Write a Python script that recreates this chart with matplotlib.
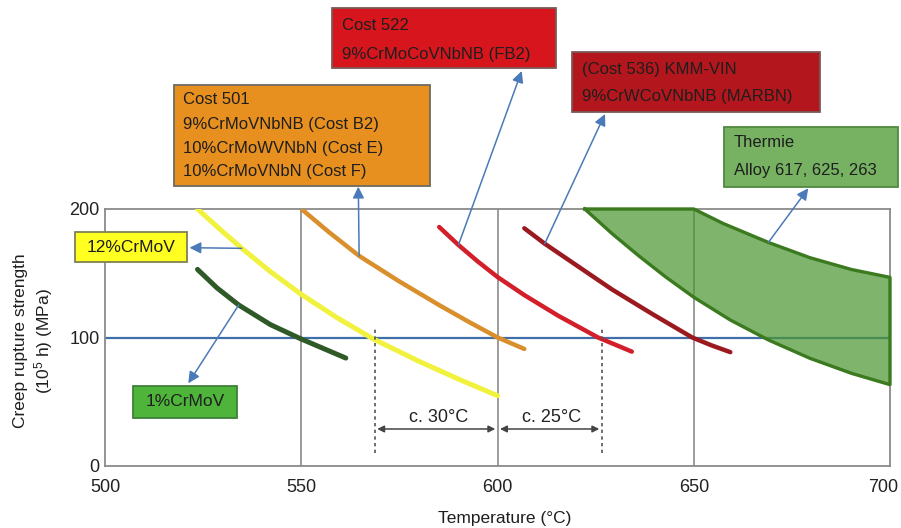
import matplotlib
matplotlib.use("Agg")
import matplotlib.pyplot as plt
from matplotlib.patches import Rectangle

plt.rcParams['font.family'] = ['Liberation Sans', 'DejaVu Sans']
plt.rcParams['mathtext.fontset'] = 'custom'
plt.rcParams['mathtext.rm'] = 'Liberation Sans'
plt.rcParams['mathtext.it'] = 'Liberation Sans:italic'

# ---------------- data ----------------
x_ticks = [500, 550, 600, 650, 700]
y_ticks = [0, 100, 200]

crmov1_T = [523.5, 528.5, 534.0, 542.1, 549.8, 561.3]
crmov1_S = [153.0, 138.5, 125.3, 110.0, 99.0, 84.0]

crmov12_T = [523.5, 529.9, 534.8, 542.1, 549.8, 558.7, 568.1, 580.0, 590.2, 600.0]
crmov12_S = [200.0, 182.4, 169.4, 151.2, 133.9, 116.1, 99.2, 81.4, 67.4, 54.7]

cost501_T = [550.3, 557.0, 564.7, 574.9, 585.1, 592.8, 600.0, 606.8]
cost501_S = [199.2, 182.0, 163.5, 143.7, 125.2, 111.9, 100.0, 91.1]

cost522_T = [585.1, 590.0, 595.0, 600.0, 606.8, 615.4, 625.6, 634.2]
cost522_S = [186.0, 172.0, 159.0, 147.0, 133.0, 117.0, 100.0, 89.0]

cost536_T = [606.8, 612.0, 619.7, 629.1, 639.3, 649.6, 654.5, 659.3]
cost536_S = [185.0, 173.0, 157.0, 137.5, 118.5, 100.0, 93.9, 88.6]

thermie_upper_T = [622.2, 650.0, 657.5, 669.0, 679.6, 690.2, 700.0]
thermie_upper_S = [200.0, 200.0, 188.7, 174.0, 162.1, 152.9, 146.8]
thermie_lower_T = [622.2, 629.1, 635.9, 642.7, 650.0, 659.3, 669.0, 679.6, 690.2, 700.0]
thermie_lower_S = [200.0, 181.0, 163.7, 147.4, 131.3, 113.6, 98.1, 83.8, 72.1, 63.3]

target_strength = 100
gap_T = [568.7, 600.0, 626.5]
gap_labels = ["c. 30°C", "c. 25°C"]

# ---------------- figure ----------------
W, H = 901, 528
fig = plt.figure(figsize=(W / 100, H / 100), dpi=100)
ax = fig.add_axes([105.3 / W, 1 - 466 / H, (890 - 105.3) / W, (466 - 209) / H])
ax.set_xlim(500, 700)
ax.set_ylim(0, 200)
ax.set_xticks(x_ticks)
ax.set_xticklabels([])
ax.set_yticks(y_ticks)
ax.tick_params(length=0, labelsize=13, colors='#222222')
ax.tick_params(axis='y', pad=4)
for s in ax.spines.values():
    s.set_color('#8a8a8a')
    s.set_linewidth(1.3)

# x tick labels (last one nudged inward like the reference)
for t in x_ticks:
    dx = -7 if t == x_ticks[-1] else 0
    ax.annotate(str(t), xy=(t, 0), xycoords=('data', 'axes fraction'),
                xytext=(dx, -21), textcoords='offset pixels', ha='center',
                va='center', fontsize=13, color='#222222', annotation_clip=False)

for t in x_ticks[1:-1]:
    ax.axvline(t, color='#8a8a8a', lw=1.2, zorder=1)
ax.axhline(target_strength, color='#3f6fa8', lw=1.6, zorder=2)

# Thermie band
poly_T = thermie_upper_T + thermie_lower_T[::-1]
poly_S = thermie_upper_S + thermie_lower_S[::-1]
ax.fill(poly_T, poly_S, facecolor='#4c9833', alpha=0.72, edgecolor='none', zorder=3)
ax.plot(poly_T, poly_S, color='#3b7a1e', lw=2.4, zorder=4, clip_on=False,
        solid_joinstyle='round')

style = dict(zorder=5, solid_capstyle='round', solid_joinstyle='round')
ax.plot(crmov12_T, crmov12_S, color='#f1f23e', lw=3.6, **style)
ax.plot(crmov1_T, crmov1_S, color='#2f5a28', lw=3.6, **style)
ax.plot(cost501_T, cost501_S, color='#d98f2c', lw=3.2, **style)
ax.plot(cost522_T, cost522_S, color='#d21f2a', lw=3.2, **style)
ax.plot(cost536_T, cost536_S, color='#9a1a20', lw=3.2, **style)

# dashed markers and temperature-gap arrows
for t in (gap_T[0], gap_T[2]):
    ax.plot([t, t], [10, 107], color='#555555', lw=1.2, ls=(0, (2, 2)), zorder=6)
for i in range(2):
    ax.annotate("", xy=(gap_T[i + 1] - 0.6, 28.8), xytext=(gap_T[i] + 0.6, 28.8),
                arrowprops=dict(arrowstyle='<|-|>', color='#444444', lw=1.1,
                                mutation_scale=10, shrinkA=0, shrinkB=0), zorder=6)
    ax.text((gap_T[i] + gap_T[i + 1]) / 2 + 0.5, 38, gap_labels[i], ha='center',
            va='center', fontsize=13, color='#222222')

# ---------------- boxes ----------------
def box(x0, y0, x1, y1, fc, ec):
    fig.add_artist(Rectangle((x0 / W, 1 - y1 / H), (x1 - x0) / W, (y1 - y0) / H,
                             transform=fig.transFigure, facecolor=fc, edgecolor=ec,
                             lw=1.3, zorder=2))

def ftext(x, y, s, ha='left', size=12, **kw):
    fig.text(x / W, 1 - y / H, s, ha=ha, va='center', fontsize=size,
             color='#1e1e1e', zorder=3, **kw)

box(75, 231.7, 187.3, 261.7, '#ffff21', '#7f7f55')
ftext(131, 247, "12%CrMoV", ha='center', size=12.5)

box(133.3, 385.7, 237.3, 417.7, '#4fb43a', '#3f7f3a')
ftext(185, 401.5, "1%CrMoV", ha='center', size=12.5)

box(174, 85, 430, 186, '#e8901f', '#6f6a60')
for yy, s in zip([100, 124, 148, 172],
                 ["Cost 501", "9%CrMoVNbNB (Cost B2)", "10%CrMoWVNbN (Cost E)",
                  "10%CrMoVNbN (Cost F)"]):
    ftext(183, yy, s)

box(332.3, 8.3, 555.7, 68.3, '#d6161c', '#7a5a5a')
ftext(341.5, 25, "Cost 522")
ftext(341.5, 55, "9%CrMoCoVNbNB (FB2)")

box(571.7, 52.3, 820, 111.7, '#b3161c', '#7a5a5a')
ftext(581.5, 69.5, "(Cost 536) KMM-VIN")
ftext(581.5, 96.7, "9%CrWCoVNbNB (MARBN)")

box(724.3, 127.3, 898.3, 186.7, '#77b263', '#4f8a3f')
ftext(734, 142.7, "Thermie")
ftext(734, 171, "Alloy 617, 625, 263")

# ---------------- leader arrows ----------------
leaders = [
    ((534.8, 169.4), (189.5, 247.7)),
    ((534.0, 125.3), (188.3, 383.3)),
    ((564.7, 163.5), (358.3, 186.7)),
    ((590.0, 172.0), (521.7, 71.0)),
    ((612.0, 173.0), (605.0, 114.0)),
    ((669.0, 174.0), (808.3, 188.3)),
]
for (tx, ty), (hx, hy) in leaders:
    ax.annotate("", xy=(hx / W, 1 - hy / H), xycoords='figure fraction',
                xytext=(tx, ty), textcoords='data',
                arrowprops=dict(arrowstyle='-|>', color='#4a7ab8', lw=1.1,
                                mutation_scale=17, shrinkA=0, shrinkB=0),
                zorder=7, annotation_clip=False)

# ---------------- axis labels ----------------
ftext(505, 518, "Temperature (°C)", ha='center', size=12.5)
fig.text(34 / W, 1 - 341 / H, "Creep rupture strength\n(10$^5$ h) (MPa)",
         rotation=90, ha='center', va='center', fontsize=12.5, color='#1e1e1e',
         multialignment='center')

fig.savefig("out.png", dpi=100)
